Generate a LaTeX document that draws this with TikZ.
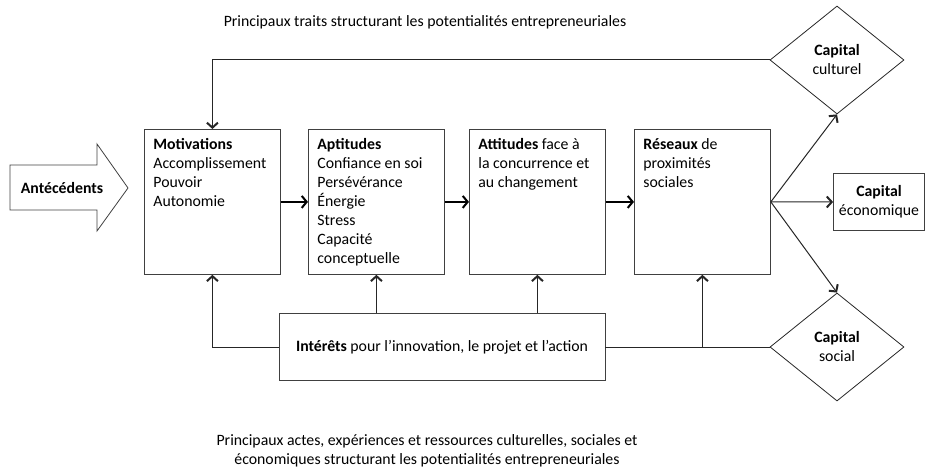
\documentclass[tikz,border=0pt]{standalone}
\usepackage{fontspec}
\setmainfont{Carlito}
\usetikzlibrary{arrows.meta,shapes.geometric}
\newcommand{\blocktext}[1]{\parbox[t][127pt][t]{118pt}{\raggedright #1}}

\begin{document}
\begin{tikzpicture}[x=1pt,y=-1pt,
  font=\fontsize{15.8}{19}\selectfont,
  bloc/.style={draw=black!75, line width=0.8pt, inner sep=9pt, anchor=north west},
  capital/.style={diamond, draw=black!85, line width=0.8pt, minimum width=134pt, minimum height=108pt, inner sep=0pt, align=center},
  cadre/.style={draw=black!75, line width=0.8pt, inner sep=2pt, align=center},
  lien/.style={draw=black!85, line width=1pt},
  fleche/.style={lien, -{Straight Barb[length=5pt,width=11pt,line width=2pt]}},
  grosse/.style={draw=black, line width=2pt, -{Straight Barb[length=5pt,width=12pt,line width=2pt]}}]
\useasboundingbox (0,0) rectangle (925,470);

% titres
\node (titre) at (425,22) {Principaux traits structurant les potentialit\'es entrepreneuriales};
\node[align=center] (legende) at (427,451) {Principaux actes, exp\'eriences et ressources culturelles, sociales et\\ \'economiques structurant les potentialit\'es entrepreneuriales};

% fleche d'entree
\draw[line width=0.8pt, draw=black!75] (10,165) -- (97,165) -- (97,144) -- (128,188) -- (97,231) -- (97,210) -- (10,210) -- cycle;
\node[font=\fontsize{15.8}{19}\selectfont\bfseries] (ante) at (62,188) {Ant\'ec\'edents};

% blocs
\node[bloc] (motiv) at (144,129) {\blocktext{\textbf{Motivations}\\ Accomplissement\\ Pouvoir\\ Autonomie}};
\node[bloc] (aptit) at (308,129) {\blocktext{\textbf{Aptitudes}\\ Confiance en soi\\ Pers\'ev\'erance\\ \'Energie\\ Stress\\ Capacit\'e\\ conceptuelle}};
\node[bloc] (attit) at (469,129) {\blocktext{\textbf{Attitudes} face \`a\\ la concurrence et\\ au changement}};
\node[bloc] (reseau) at (634,129) {\blocktext{\textbf{R\'eseaux} de\\ proximit\'es\\ sociales}};
\node[cadre, minimum width=326pt, minimum height=67pt] (inter) at (442,347) {\textbf{Int\'er\^ets} pour l’innovation, le projet et l’action};

% capitaux
\node[capital] (cultu) at (837,60) {\textbf{Capital}\\ culturel};
\node[capital] (socia) at (837,347) {\textbf{Capital}\\ social};
\node[cadre, minimum width=91pt, minimum height=57pt] (econo) at (879,202) {\textbf{Capital}\\ \'economique};

% liens
\draw[grosse] (motiv.east) -- (aptit.west);
\draw[grosse] (aptit.east) -- (attit.west);
\draw[grosse] (attit.east) -- (reseau.west);
\draw[fleche] (cultu.west) -- (motiv.north |- cultu.west) -- (motiv.north);
\draw[fleche] (reseau.east) -- (cultu.south);
\draw[fleche] (reseau.east) -- (econo.west);
\draw[fleche] (reseau.east) -- (socia.north);
\draw[fleche] (inter.west) -- (motiv.south |- inter.west) -- (motiv.south);
\draw[fleche] (inter.north -| aptit.south) -- (aptit.south);
\draw[fleche] (inter.north -| attit.south) -- (attit.south);
\draw[lien] (inter.east) -- (socia.west);
\coordinate (branche) at (reseau.south |- inter.east);
\draw[fleche] (branche) -- (reseau.south);

\end{tikzpicture}
\end{document}
